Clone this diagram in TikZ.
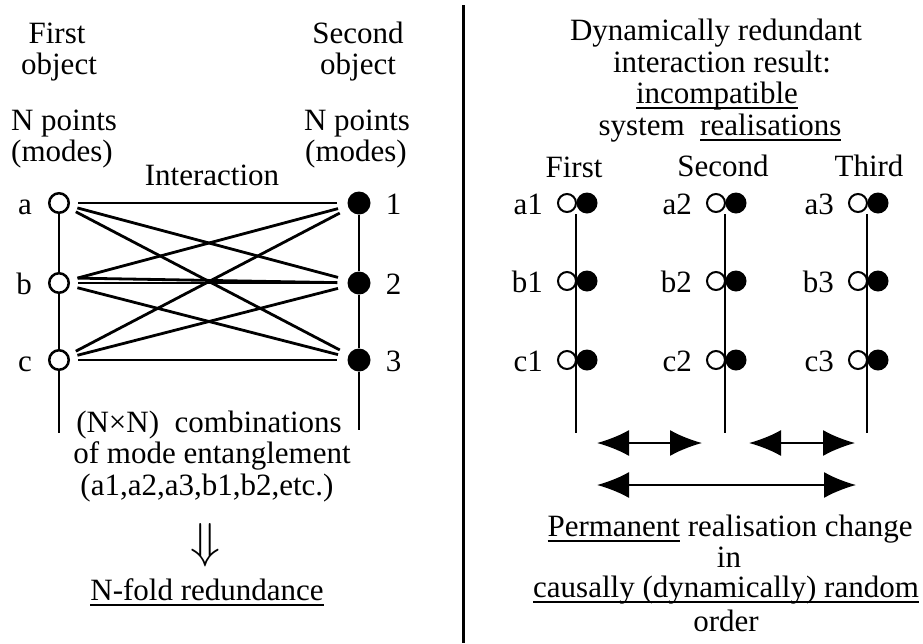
\documentclass[tikz,border=0pt]{standalone}
\usepackage{fontspec}
\setmainfont{Liberation Serif}
\usepackage{graphicx}
\usepackage{tikz}
\usetikzlibrary{arrows.meta,positioning,calc}

\newcommand\undl[1]{\setbox0\hbox{#1}\rlap{\rule[-6pt]{\wd0}{1.8pt}}\box0\relax}

\tikzset{
  txt/.style={font=\fontsize{31}{31}\selectfont, inner sep=0pt, anchor=base},
  openpt/.style={circle, draw, line width=2.5pt, fill=white, minimum size=19.5pt, inner sep=0pt},
  fullpt/.style={circle, fill=black, minimum size=23pt, inner sep=0pt},
  opensm/.style={circle, draw, line width=2pt, fill=white, minimum size=18pt, inner sep=0pt},
  fullsm/.style={circle, fill=black, minimum size=21pt, inner sep=0pt},
  link/.style={line width=2.8pt, shorten <=8pt, shorten >=10pt},
  objline/.style={line width=2.8pt},
  realline/.style={line width=2pt},
  realarrow/.style={{Latex[length=32pt,width=26pt]}-{Latex[length=32pt,width=26pt]}, line width=2pt},
}

\begin{document}
\begin{tikzpicture}[x=1pt, y=-1pt]
  \useasboundingbox (0,0) rectangle (923,643);

  % Divider
  \draw[line width=3pt] (463,5) -- (463,643);

  % Left: the two objects
  \node[txt] (obj1) at (57,43) {First};
  \node[txt] (obj1b) at (59,74) {object};
  \node[txt] (pts1) at (64,130) {N points};
  \node[txt] (pts1b) at (62,161) {(modes)};
  \node[txt] (obj2) at (358,43) {Second};
  \node[txt] (obj2b) at (358,74) {object};
  \node[txt] (pts2) at (357,130) {N points};
  \node[txt] (pts2b) at (356,161) {(modes)};
  \node[txt] (inter) at (212,185) {Interaction};

  % Modes
  \foreach \m/\k/\y in {a/1/203, b/2/283, c/3/360} {
    \node[openpt] (\m) at (59,\y) {};
    \node[fullpt] (n\k) at (359,\y) {};
    \node[txt, anchor=base east] (l\m) at ($(\m.west)+(-16,11)$) {\m};
    \node[txt, anchor=base west] (l\k) at ($(n\k.east)+(15,11)$) {\k};
  }
  \coordinate (aend) at (59,433);
  \coordinate (nend) at (359,430);
  \draw[objline] (a) -- (b) (b) -- (c) (c) -- (aend);
  \draw[objline] (n1) -- (n2) (n2) -- (n3) (n3) -- (nend);

  % Interaction links
  \foreach \s in {a,b,c}
    \foreach \t in {n1,n2,n3}
      \draw[link] (\s) -- (\t);
  \draw[link] ([yshift=5pt]b.east) -- (n2);

  \node[txt] (comb) at (209,432) {(N×N)~~combinations};
  \node[txt] (ent) at (212,463) {of mode entanglement};
  \node[txt] (ex) at (207,495) {(a1,a2,a3,b1,b2,etc.)};
  \node[inner sep=0pt] (imp) at (205,545) {\resizebox{!}{34pt}{$\Downarrow$}};
  \node[txt] (nfold) at (207,600) {\undl{N-fold redundance}};

  % Right: realisations
  \node[txt] (t1) at (716,40) {Dynamically redundant};
  \node[txt] (t2) at (722,72) {interaction result:};
  \node[txt] (t3) at (717,103) {\undl{incompatible}};
  \node[txt] (t4) at (720,135) {system~~\undl{realisations}};

  \node[txt] (r1) at (574,177) {First};
  \node[txt] (r2) at (723,176) {Second};
  \node[txt] (r3) at (869,176) {Third};

  \foreach \k/\x in {1/576, 2/725, 3/867} {
    \coordinate (top\k) at (\x,214);
    \coordinate (bot\k) at (\x,433);
    \draw[realline] (top\k) -- (bot\k);
    \foreach \m/\y in {a/203, b/281, c/360} {
      \node[fullsm] (f\m\k) at (\x+11,\y) {};
      \node[opensm] (o\m\k) at (\x-9,\y) {};
      \node[txt, anchor=base east] (l\m\k) at ($(o\m\k.west)+(-14,11)$) {\m\k};
    }
  }

  % Realisation change arrows
  \coordinate (s1) at (597,443);
  \coordinate (e1) at (702,443);
  \coordinate (s2) at (749,443);
  \coordinate (e2) at (855,443);
  \coordinate (s3) at (597,485);
  \coordinate (e3) at (856,485);
  \draw[realarrow] (s1) -- (e1);
  \draw[realarrow] (s2) -- (e2);
  \draw[realarrow] (s3) -- (e3);

  \node[txt] (perm) at (730,536) {\undl{Permanent} realisation change};
  \node[txt] (permin) at (729,567) {in};
  \node[txt] (permrnd) at (726,597) {\undl{causally (dynamically) random}};
  \node[txt] (permord) at (726,631) {order};
\end{tikzpicture}
\end{document}
